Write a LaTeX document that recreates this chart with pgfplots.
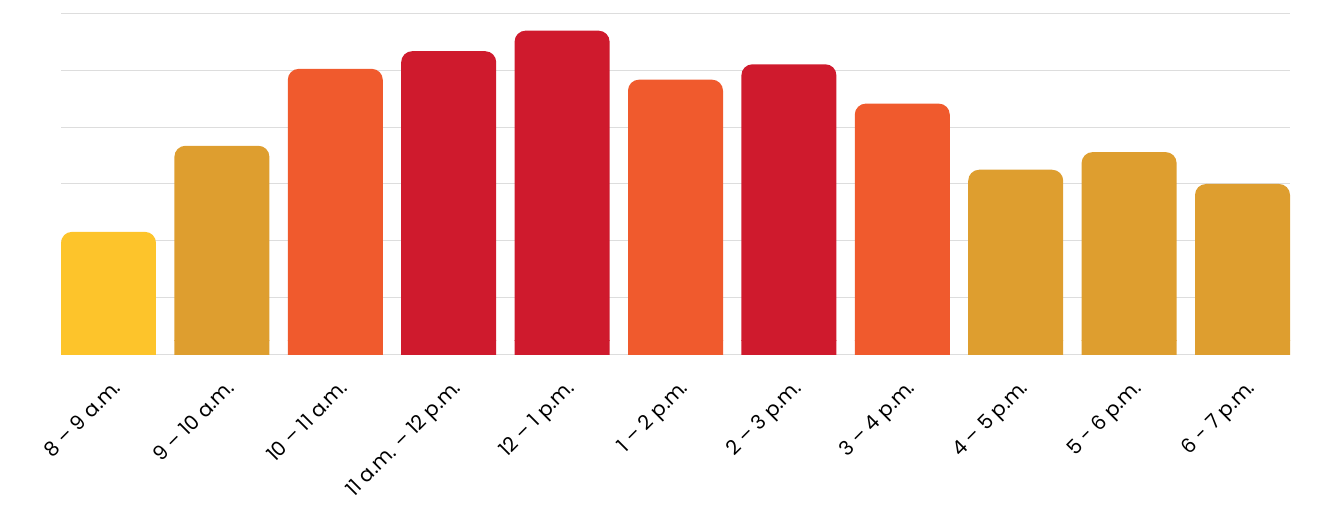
\documentclass[border=0pt]{standalone}
\usepackage{pgfplots}
\usepackage{pgfplotstable}
\pgfplotsset{compat=1.18}
\usepackage{fontspec}
\setmainfont{Poppins}
\definecolor{cyellow}{HTML}{FDC42B}
\definecolor{cgold}{HTML}{DE9E2F}
\definecolor{corange}{HTML}{F05A2D}
\definecolor{cred}{HTML}{CF1A2D}
\definecolor{cgrid}{HTML}{DDDDDD}
\pgfplotstableread{
x y
0 2.16
}\tyellow
\pgfplotstableread{
x y
1 3.67
8 3.25
9 3.56
10 3.00
}\tgold
\pgfplotstableread{
x y
2 5.02
5 4.83
7 4.41
}\torange
\pgfplotstableread{
x y
3 5.33
4 5.69
6 5.10
}\tred
\pgfplotsset{
  base/.style={
    scale only axis,
    width=921.75pt,
    xmin=-0.4188, xmax=10.4188,
    ybar, bar width=71.25pt,
    axis line style={draw=none},
    tick style={draw=none},
  },
}
\begin{document}
\begin{tikzpicture}
\useasboundingbox (0,0) rectangle (996.75pt,387.75pt);
% grid and labels
\begin{axis}[base,
  at={(45.75pt,121.5pt)}, anchor=south west,
  height=256.5pt, ymin=0, ymax=6,
  ytick={0,1,...,6}, yticklabels={},
  ymajorgrids, grid style={cgrid, line width=0.75pt},
  xtick={0,...,10},
  xticklabels={8 \textendash{} 9 a.m., 9 \textendash{} 10 a.m., 10 \textendash{} 11 a.m., 11 a.m. \textendash{} 12 p.m., 12 \textendash{} 1 p.m., 1 \textendash{} 2 p.m., 2 \textendash{} 3 p.m., 3 \textendash{} 4 p.m., 4 \textendash{} 5 p.m., 5 - 6 p.m., 6 - 7 p.m.},
  xticklabel style={rotate=45, anchor=north east, inner sep=0pt, xshift=-8pt, yshift=-11pt, font=\fontsize{15pt}{17pt}\selectfont},
]
\end{axis}
% bars with rounded corners; their bottom part is clipped away
\begin{scope}
\clip (0pt,132pt) rectangle (996.75pt,387.75pt);
\begin{axis}[base,
  at={(45.75pt,121.5pt)}, anchor=south west,
  height=256.5pt, ymin=0, ymax=6,
  xtick=\empty, ytick=\empty,
]
\addplot[ybar, bar shift=0pt, fill=cyellow, draw=none, rounded corners=8.25pt] table[x=x,y=y]{\tyellow};
\addplot[ybar, bar shift=0pt, fill=cgold, draw=none, rounded corners=8.25pt] table[x=x,y=y]{\tgold};
\addplot[ybar, bar shift=0pt, fill=corange, draw=none, rounded corners=8.25pt] table[x=x,y=y]{\torange};
\addplot[ybar, bar shift=0pt, fill=cred, draw=none, rounded corners=8.25pt] table[x=x,y=y]{\tred};
\end{axis}
\end{scope}
% square feet of the same bars, below the clipped part
\begin{axis}[base,
  at={(45.75pt,121.5pt)}, anchor=south west,
  height=10.5pt, ymin=0, ymax=0.245614,
  xtick=\empty, ytick=\empty,
]
\addplot[ybar, bar shift=0pt, fill=cyellow, draw=none] table[x=x,y=y]{\tyellow};
\addplot[ybar, bar shift=0pt, fill=cgold, draw=none] table[x=x,y=y]{\tgold};
\addplot[ybar, bar shift=0pt, fill=corange, draw=none] table[x=x,y=y]{\torange};
\addplot[ybar, bar shift=0pt, fill=cred, draw=none] table[x=x,y=y]{\tred};
\end{axis}
\end{tikzpicture}
\end{document}
